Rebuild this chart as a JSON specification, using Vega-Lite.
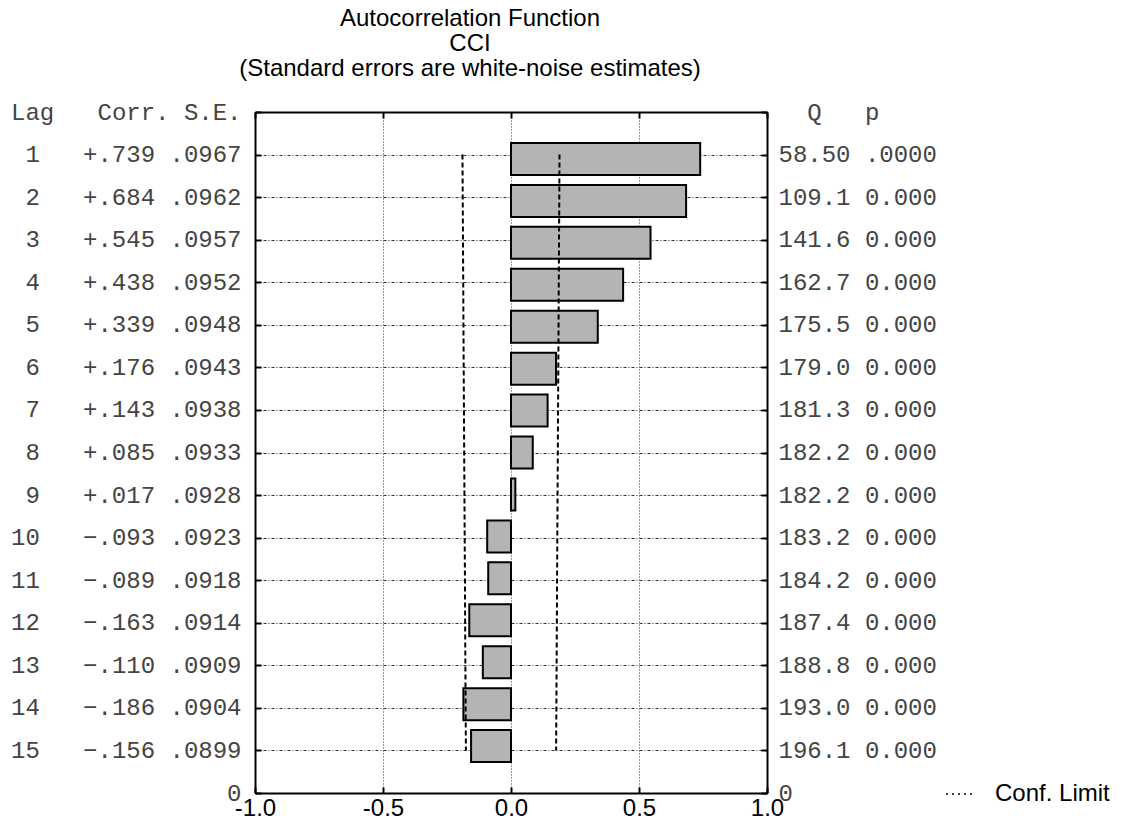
{
  "$schema": "https://vega.github.io/schema/vega-lite/v6.json",
  "width": 512,
  "height": 681,
  "autosize": {"type": "none"},
  "padding": {"left": 255, "top": 112, "right": 358, "bottom": 41},
  "background": "white",
  "title": {
    "text": ["Autocorrelation Function", "CCI", "(Standard errors are white-noise estimates)"],
    "font": "Liberation Sans",
    "fontSize": 24,
    "fontWeight": "normal",
    "lineHeight": 25,
    "color": "black",
    "anchor": "middle",
    "frame": "group",
    "dx": -41,
    "offset": 19
  },
  "config": {"view": {"stroke": null}},
  "data": {
    "values": [
      {"lag": 0, "left": "Lag\u00a0\u00a0\u00a0Corr.\u00a0S.E.", "right": "\u200b\u00a0\u00a0Q\u00a0\u00a0\u00a0p"},
      {"lag": 1, "corr": 0.739, "se": 0.0967, "q": 58.50, "p": 0, "confLo": -0.1895, "confHi": 0.1895, "left": "\u00a01\u00a0\u00a0\u00a0+.739\u00a0.0967", "right": "58.50\u00a0.0000"},
      {"lag": 2, "corr": 0.684, "se": 0.0962, "q": 109.1, "p": 0, "confLo": -0.1886, "confHi": 0.1886, "left": "\u00a02\u00a0\u00a0\u00a0+.684\u00a0.0962", "right": "109.1\u00a00.000"},
      {"lag": 3, "corr": 0.545, "se": 0.0957, "q": 141.6, "p": 0, "confLo": -0.1876, "confHi": 0.1876, "left": "\u00a03\u00a0\u00a0\u00a0+.545\u00a0.0957", "right": "141.6\u00a00.000"},
      {"lag": 4, "corr": 0.438, "se": 0.0952, "q": 162.7, "p": 0, "confLo": -0.1866, "confHi": 0.1866, "left": "\u00a04\u00a0\u00a0\u00a0+.438\u00a0.0952", "right": "162.7\u00a00.000"},
      {"lag": 5, "corr": 0.339, "se": 0.0948, "q": 175.5, "p": 0, "confLo": -0.1858, "confHi": 0.1858, "left": "\u00a05\u00a0\u00a0\u00a0+.339\u00a0.0948", "right": "175.5\u00a00.000"},
      {"lag": 6, "corr": 0.176, "se": 0.0943, "q": 179.0, "p": 0, "confLo": -0.1848, "confHi": 0.1848, "left": "\u00a06\u00a0\u00a0\u00a0+.176\u00a0.0943", "right": "179.0\u00a00.000"},
      {"lag": 7, "corr": 0.143, "se": 0.0938, "q": 181.3, "p": 0, "confLo": -0.1838, "confHi": 0.1838, "left": "\u00a07\u00a0\u00a0\u00a0+.143\u00a0.0938", "right": "181.3\u00a00.000"},
      {"lag": 8, "corr": 0.085, "se": 0.0933, "q": 182.2, "p": 0, "confLo": -0.1829, "confHi": 0.1829, "left": "\u00a08\u00a0\u00a0\u00a0+.085\u00a0.0933", "right": "182.2\u00a00.000"},
      {"lag": 9, "corr": 0.017, "se": 0.0928, "q": 182.2, "p": 0, "confLo": -0.1819, "confHi": 0.1819, "left": "\u00a09\u00a0\u00a0\u00a0+.017\u00a0.0928", "right": "182.2\u00a00.000\u00a0"},
      {"lag": 10, "corr": -0.093, "se": 0.0923, "q": 183.2, "p": 0, "confLo": -0.1809, "confHi": 0.1809, "left": "10\u00a0\u00a0\u00a0\u2212.093\u00a0.0923", "right": "183.2\u00a00.000"},
      {"lag": 11, "corr": -0.089, "se": 0.0918, "q": 184.2, "p": 0, "confLo": -0.1799, "confHi": 0.1799, "left": "11\u00a0\u00a0\u00a0\u2212.089\u00a0.0918", "right": "184.2\u00a00.000"},
      {"lag": 12, "corr": -0.163, "se": 0.0914, "q": 187.4, "p": 0, "confLo": -0.1791, "confHi": 0.1791, "left": "12\u00a0\u00a0\u00a0\u2212.163\u00a0.0914", "right": "187.4\u00a00.000"},
      {"lag": 13, "corr": -0.110, "se": 0.0909, "q": 188.8, "p": 0, "confLo": -0.1782, "confHi": 0.1782, "left": "13\u00a0\u00a0\u00a0\u2212.110\u00a0.0909", "right": "188.8\u00a00.000"},
      {"lag": 14, "corr": -0.186, "se": 0.0904, "q": 193.0, "p": 0, "confLo": -0.1772, "confHi": 0.1772, "left": "14\u00a0\u00a0\u00a0\u2212.186\u00a0.0904", "right": "193.0\u00a00.000"},
      {"lag": 15, "corr": -0.156, "se": 0.0899, "q": 196.1, "p": 0, "confLo": -0.1762, "confHi": 0.1762, "left": "15\u00a0\u00a0\u00a0\u2212.156\u00a0.0899", "right": "196.1\u00a00.000"},
      {"lag": 16, "left": "0", "right": "0"}
    ]
  },
  "layer": [
    {
      "mark": {"type": "point", "opacity": 0},
      "encoding": {
        "y": {
          "field": "left", "type": "nominal", "sort": null, "title": null,
          "scale": {"type": "point", "padding": 0},
          "axis": {
            "orient": "left", "grid": true, "gridColor": "#333", "gridDash": [3, 2, 1, 2], "gridWidth": 1,
            "domain": true, "domainColor": "black", "domainWidth": 2,
            "ticks": true, "tickColor": "black", "tickWidth": 2, "tickSize": -6,
            "labelFont": "Liberation Mono", "labelFontSize": 24, "labelColor": "#444",
            "labelPadding": 20, "labelAlign": "right", "labelBaseline": "middle",
            "labelLimit": 0, "labelOverlap": false
          }
        },
        "x": {"datum": 0, "type": "quantitative", "scale": {"domain": [-1, 1], "nice": false, "zero": false}, "axis": null}
      }
    },
    {
      "mark": {"type": "bar", "orient": "horizontal", "height": 32, "fill": "#b4b4b4", "stroke": "black", "strokeWidth": 2},
      "encoding": {
        "y": {"field": "lag", "type": "quantitative", "scale": {"domain": [0, 16], "reverse": true, "nice": false, "zero": false}, "axis": null},
        "x": {
          "field": "corr", "type": "quantitative", "title": null,
          "scale": {"domain": [-1, 1], "nice": false, "zero": false},
          "axis": {
            "orient": "bottom", "values": [-1, -0.5, 0, 0.5, 1], "format": ".1f",
            "labelExpr": "replace(datum.label, '\u2212', '-')",
            "grid": true, "gridDash": [1, 2], "gridColor": "#333", "gridWidth": 1,
            "domainColor": "black", "domainWidth": 2,
            "tickColor": "black", "tickWidth": 2, "tickSize": -6,
            "labelFont": "Liberation Sans", "labelFontSize": 24, "labelColor": "black",
            "labelPadding": 9, "labelFlush": false
          }
        },
        "x2": {"datum": 0}
      }
    },
    {
      "transform": [{"fold": ["confLo", "confHi"], "as": ["side", "conf"]}],
      "mark": {"type": "line", "strokeDash": [5, 3], "strokeWidth": 2},
      "encoding": {
        "y": {"field": "lag", "type": "quantitative", "scale": {"domain": [0, 16], "reverse": true, "nice": false, "zero": false}, "axis": null},
        "x": {"field": "conf", "type": "quantitative", "scale": {"domain": [-1, 1], "nice": false, "zero": false}, "axis": null},
        "detail": {"field": "side", "type": "nominal"},
        "order": {"field": "lag"},
        "stroke": {
          "datum": "Conf. Limit", "type": "nominal",
          "scale": {"range": ["black"]},
          "legend": {
            "orient": "none", "legendX": 690, "legendY": 666, "title": null,
            "symbolType": "stroke", "symbolSize": 900, "symbolStrokeWidth": 1.5, "symbolDash": [2, 4],
            "labelFont": "Liberation Sans", "labelFontSize": 24, "labelColor": "black", "labelOffset": 18
          }
        }
      }
    },
    {
      "mark": {"type": "point", "opacity": 0},
      "encoding": {
        "y": {
          "field": "right", "type": "nominal", "sort": null, "title": null,
          "scale": {"type": "point", "padding": 0},
          "axis": {
            "orient": "right", "grid": false,
            "domainColor": "black", "domainWidth": 2,
            "tickColor": "black", "tickWidth": 2, "tickSize": -6,
            "labelFont": "Liberation Mono", "labelFontSize": 24, "labelColor": "#444",
            "labelPadding": 17, "labelAlign": "left", "labelBaseline": "middle",
            "labelLimit": 0, "labelOverlap": false
          }
        },
        "x": {
          "datum": 0, "type": "quantitative",
          "scale": {"domain": [-1, 1], "nice": false, "zero": false},
          "axis": {
            "orient": "top", "values": [-1, -0.5, 0, 0.5, 1], "labels": false, "grid": false, "title": null,
            "domainColor": "black", "domainWidth": 2,
            "tickColor": "black", "tickWidth": 2, "tickSize": -6
          }
        }
      }
    }
  ],
  "resolve": {"scale": {"y": "independent"}, "axis": {"x": "independent"}}
}
